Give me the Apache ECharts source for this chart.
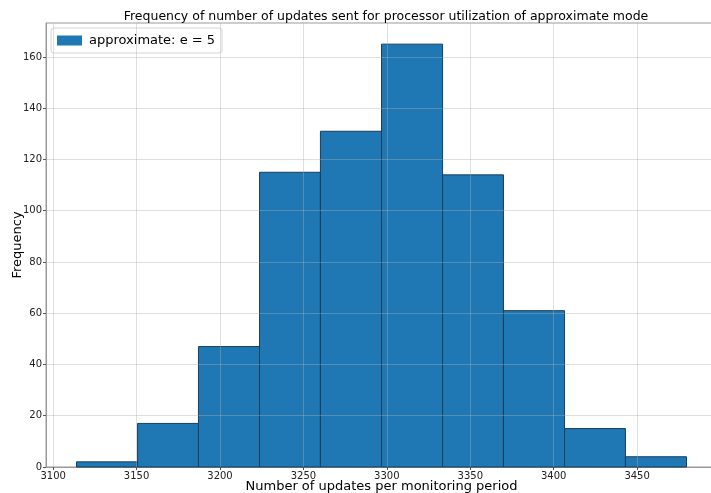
<!DOCTYPE html>
<html>
<head>
<meta charset="utf-8">
<script src="https://cdn.jsdelivr.net/npm/echarts@6/dist/echarts.min.js"></script>
<style>
  html, body { margin: 0; padding: 0; background: #fff; }
  #chart { width: 711px; height: 493px; }
</style>
</head>
<body>
<div id="chart"></div>
<script>
// Histogram bin edges (number of updates per monitoring period)
const binEdges = [3114.0, 3150.6, 3187.1, 3223.7, 3260.2, 3296.8, 3333.4, 3369.9, 3406.5, 3443.0, 3479.6];
// Count of monitoring periods falling in each bin
const binCounts = [2, 17, 47, 115, 131, 165, 114, 61, 15, 4];
// Tick labels
const xTicks = [3100, 3150, 3200, 3250, 3300, 3350, 3400, 3450];
const yTicks = [0, 20, 40, 60, 80, 100, 120, 140, 160];

const seriesName = 'approximate: e = 5';
const font = 'DejaVu Sans';

// [left edge, right edge, count] for each bin
const bins = binCounts.map((c, i) => [binEdges[i], binEdges[i + 1], c]);

const span = binEdges[binEdges.length - 1] - binEdges[0];
const xMin = binEdges[0] - 0.05 * span;
const xMax = binEdges[binEdges.length - 1] + 0.05 * span;
const yMax = Math.max(...binCounts) * 1.05;

const gridColor = 'rgba(176,176,176,0.4)';

const chart = echarts.init(document.getElementById('chart'), null, { renderer: 'canvas' });

chart.setOption({
  animation: false,
  backgroundColor: '#fff',
  textStyle: { fontFamily: font },
  title: {
    text: 'Frequency of number of updates sent for processor utilization of approximate mode',
    left: 381, top: 5, textAlign: 'center',
    textStyle: { fontFamily: font, fontSize: 12.5, fontWeight: 'normal', color: '#000' }
  },
  legend: {
    left: 51, top: 28,
    data: [{ name: seriesName, icon: 'rect' }],
    itemWidth: 25, itemHeight: 10, itemGap: 6,
    padding: [6, 7, 6, 6],
    borderColor: '#d5d5d5', borderWidth: 1, borderRadius: 3,
    backgroundColor: 'rgba(255,255,255,0.8)',
    textStyle: { fontFamily: font, fontSize: 13, color: '#000', padding: [0, 0, 0, 2] }
  },
  grid: {
    left: 46, right: -6, top: 23, bottom: 26,
    outerBoundsMode: 'none', containLabel: false,
    show: true, borderColor: '#999', borderWidth: 1, backgroundColor: 'transparent'
  },
  xAxis: {
    type: 'value', min: xMin, max: xMax,
    name: 'Number of updates per monitoring period',
    nameLocation: 'middle', nameGap: 13, nameMoveOverlap: false,
    nameTextStyle: { fontFamily: font, fontSize: 13, color: '#000', verticalAlign: 'top' },
    axisLine: { show: true, lineStyle: { color: '#999' } },
    axisTick: { show: true, customValues: xTicks, length: 3, lineStyle: { color: '#555' } },
    axisLabel: { customValues: xTicks, formatter: v => String(v), fontFamily: font, fontSize: 10, color: '#222', margin: 4 },
    splitLine: { show: false }
  },
  yAxis: {
    type: 'value', min: 0, max: yMax,
    name: 'Frequency',
    nameLocation: 'middle', nameGap: 22, nameRotate: 90, nameMoveOverlap: false,
    nameTextStyle: { fontFamily: font, fontSize: 13, color: '#000' },
    axisLine: { show: true, lineStyle: { color: '#999' } },
    axisTick: { show: true, customValues: yTicks, length: 3, lineStyle: { color: '#555' } },
    axisLabel: { customValues: yTicks, formatter: v => String(v), fontFamily: font, fontSize: 10, color: '#222', margin: 4 },
    splitLine: { show: false }
  },
  series: [{
    name: seriesName,
    type: 'custom',
    itemStyle: { color: '#1f77b4' },
    encode: { x: [0, 1], y: 2 },
    data: bins,
    renderItem(params, api) {
      const topLeft = api.coord([api.value(0), api.value(2)]);
      const bottomRight = api.coord([api.value(1), 0]);
      return {
        type: 'rect',
        shape: {
          x: topLeft[0], y: topLeft[1],
          width: bottomRight[0] - topLeft[0],
          height: bottomRight[1] - topLeft[1]
        },
        style: { fill: '#1f77b4', stroke: '#173f5f', lineWidth: 1 }
      };
    },
    // grid lines drawn over the bars
    markLine: {
      silent: true, symbol: 'none', z: 5,
      label: { show: false },
      lineStyle: { color: gridColor, type: 'solid', width: 1 },
      data: [
        ...xTicks.map(v => ({ xAxis: v })),
        ...yTicks.filter(v => v > 0).map(v => ({ yAxis: v }))
      ]
    }
  }]
});
</script>
</body>
</html>
